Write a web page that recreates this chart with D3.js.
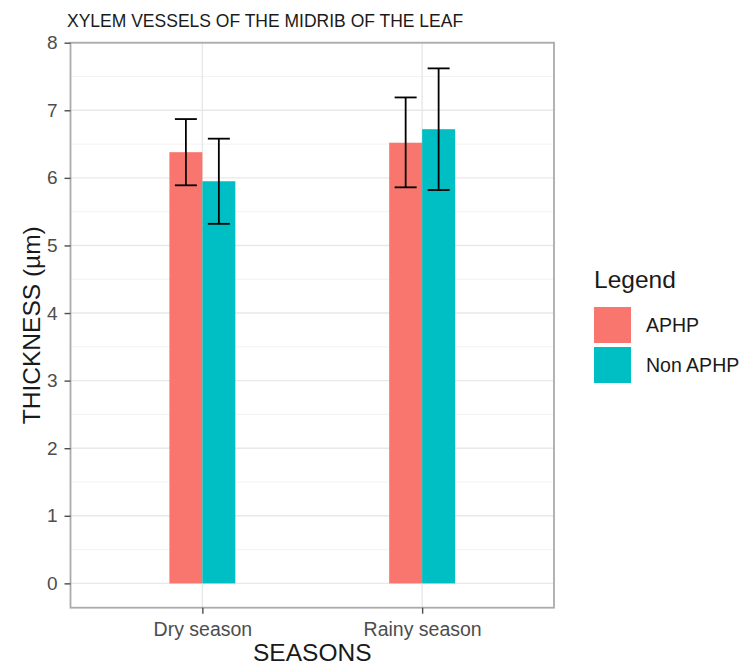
<!DOCTYPE html>
<html>
<head>
<meta charset="utf-8">
<script src="https://cdn.jsdelivr.net/npm/d3@7"></script>
<style>
  body { margin: 0; background: #fff; }
  text { font-family: "Liberation Sans", Arial, sans-serif; }
</style>
</head>
<body>
<div id="chart"></div>
<script>
(function(){
    // chart data
    const seasons = ["Dry season", "Rainy season"];
    const groups = ["APHP", "Non APHP"];
    const colors = ["#F8766D", "#00BFC4"];
    const aphpMean = [6.38, 6.52];
    const aphpLow = [5.89, 5.86];
    const aphpHigh = [6.87, 7.19];
    const nonMean = [5.95, 6.72];
    const nonLow = [5.32, 5.82];
    const nonHigh = [6.58, 7.62];
    const yTicks = [0, 1, 2, 3, 4, 5, 6, 7, 8];

    const width = 746, height = 670;
    const left = 70.5, right = 554, top = 42.7, bottom = 607.7;

    const rows = [];
    seasons.forEach((s, i) => {
        rows.push({ season: s, group: groups[0], mean: aphpMean[i], lo: aphpLow[i], hi: aphpHigh[i] });
        rows.push({ season: s, group: groups[1], mean: nonMean[i], lo: nonLow[i], hi: nonHigh[i] });
    });

    const svg = d3.select("#chart").append("svg")
        .attr("width", width).attr("height", height);

    // discrete x: categories at 1,2 with 0.6 expansion
    const xc = d3.scaleLinear().domain([0.4, 2.6]).range([left, right]);
    const xPos = s => xc(seasons.indexOf(s) + 1);
    const y = d3.scaleLinear().domain([-0.36, 8]).range([bottom, top]);
    const color = d3.scaleOrdinal().domain(groups).range(colors);
    const dodge = d3.scaleBand().domain(groups).range([-0.15, 0.15]);

    // grid
    const grid = svg.append("g");
    d3.range(0.5, 8, 1).forEach(v => {
        grid.append("line").attr("x1", left).attr("x2", right)
            .attr("y1", y(v)).attr("y2", y(v))
            .attr("stroke", "#ededed").attr("stroke-width", 0.7);
    });
    yTicks.forEach(v => {
        grid.append("line").attr("x1", left).attr("x2", right)
            .attr("y1", y(v)).attr("y2", y(v))
            .attr("stroke", "#e8e8e8").attr("stroke-width", 1.4);
    });
    seasons.forEach(s => {
        grid.append("line").attr("x1", xPos(s)).attr("x2", xPos(s))
            .attr("y1", top).attr("y2", bottom)
            .attr("stroke", "#e8e8e8").attr("stroke-width", 1.4);
    });

    // bars
    svg.append("g").selectAll("rect")
        .data(rows)
        .join("rect")
        .attr("x", d => xc(seasons.indexOf(d.season) + 1 + dodge(d.group)))
        .attr("width", xc(1 + dodge.bandwidth()) - xc(1))
        .attr("y", d => y(d.mean))
        .attr("height", d => y(0) - y(d.mean))
        .attr("fill", d => color(d.group));

    // error bars
    const eb = svg.append("g").attr("stroke", "#000").attr("stroke-width", 1.8);
    rows.forEach(d => {
        const cx = xc(seasons.indexOf(d.season) + 1 + dodge(d.group) + dodge.bandwidth() / 2);
        const hw = xc(1.05) - xc(1);
        eb.append("line").attr("x1", cx).attr("x2", cx).attr("y1", y(d.lo)).attr("y2", y(d.hi));
        eb.append("line").attr("x1", cx - hw).attr("x2", cx + hw).attr("y1", y(d.lo)).attr("y2", y(d.lo));
        eb.append("line").attr("x1", cx - hw).attr("x2", cx + hw).attr("y1", y(d.hi)).attr("y2", y(d.hi));
    });

    // panel border
    svg.append("rect").attr("x", left).attr("y", top)
        .attr("width", right - left).attr("height", bottom - top)
        .attr("fill", "none").attr("stroke", "#ababab").attr("stroke-width", 1.8);

    // y axis
    const yAxis = svg.append("g").attr("transform", `translate(${left},0)`)
        .call(d3.axisLeft(y).tickValues(yTicks).tickSize(6).tickPadding(7));
    yAxis.select(".domain").remove();
    yAxis.selectAll("line").attr("stroke", "#4d4d4d").attr("stroke-width", 1.4);
    yAxis.selectAll("text").attr("fill", "#4d4d4d").style("font-size", "19px")
        .style("font-family", "Liberation Sans, Arial, sans-serif");

    // x axis
    const xAxis = svg.append("g").attr("transform", `translate(0,${bottom})`)
        .call(d3.axisBottom(d3.scalePoint().domain(seasons).range([xPos(seasons[0]), xPos(seasons[1])]))
            .tickSize(6).tickPadding(8));
    xAxis.select(".domain").remove();
    xAxis.selectAll("line").attr("stroke", "#4d4d4d").attr("stroke-width", 1.4);
    xAxis.selectAll("text").attr("fill", "#4d4d4d").style("font-size", "19.5px")
        .style("font-family", "Liberation Sans, Arial, sans-serif");

    // titles
    svg.append("text").attr("x", 67).attr("y", 26.5)
        .style("font-size", "17.5px").attr("fill", "#1a1a1a")
        .text("XYLEM VESSELS OF THE MIDRIB OF THE LEAF");
    svg.append("text").attr("x", (left + right) / 2).attr("y", 661)
        .attr("text-anchor", "middle").style("font-size", "24.5px").attr("fill", "#1a1a1a")
        .text("SEASONS");
    svg.append("text")
        .attr("transform", `translate(40,${(top + bottom) / 2}) rotate(-90)`)
        .attr("text-anchor", "middle").style("font-size", "24.5px").attr("fill", "#1a1a1a")
        .text("THICKNESS (µm)");

    // legend
    const lg = svg.append("g").attr("transform", "translate(594,0)");
    lg.append("text").attr("x", 0).attr("y", 288)
        .style("font-size", "24.5px").attr("fill", "#1a1a1a").text("Legend");
    groups.forEach((g, i) => {
        const ky = 307 + i * 40;
        lg.append("rect").attr("x", 0).attr("y", ky).attr("width", 37).attr("height", 36)
            .attr("fill", color(g));
        lg.append("text").attr("x", 52).attr("y", ky + 25)
            .style("font-size", "19.5px").attr("fill", "#1a1a1a").text(g);
    });
})();
</script>
</body>
</html>
